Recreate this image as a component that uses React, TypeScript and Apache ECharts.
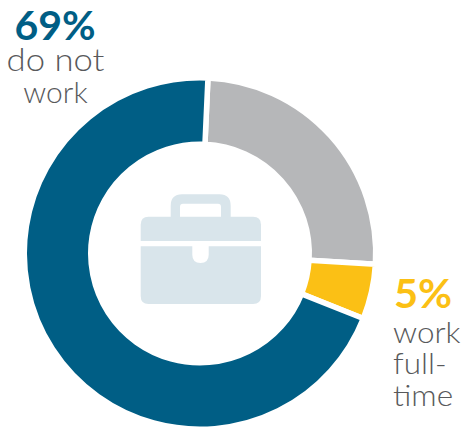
import React, { useEffect, useRef } from "react";
import * as echarts from "echarts";

const shareNames = ["Part-time or other", "Work full-time", "Do not work"];
const shareValues = [25, 5, 69];
const shareColors = ["#b6b7b9", "#fbc015", "#005e85"];

const FONT = "Lato, sans-serif";
const GREY_TEXT = "#58595b";

// Briefcase outline, split into the handle, the lid and the lower body with its clasp.
const HANDLE =
  "M170.7 217V206Q170.7 194.3 182 194.3H219.5Q230.7 194.3 230.7 206V217H221V207Q221 203.8 218 203.8H183Q180 203.8 180 207V217Z";
const LID = "M148.5 216.7H253Q261 216.7 261 224.7V241H140.7V224.7Q140.7 216.7 148.5 216.7Z";
const BODY =
  "M140.7 246.3H192.3V254.8Q192.3 263 200.5 263Q208.7 263 208.7 254.8V246.3H261V296Q261 304 253 304H148.5Q140.7 304 140.7 296Z";

echarts.graphic.registerShape("caseHandle", echarts.graphic.extendPath(HANDLE, {}));
echarts.graphic.registerShape("caseLid", echarts.graphic.extendPath(LID, {}));
echarts.graphic.registerShape("caseBody", echarts.graphic.extendPath(BODY, {}));

const label = (
  text: string,
  x: number,
  y: number,
  size: number,
  fill: string,
  weight = 400,
  align: "left" | "center" = "center",
  scaleX = 1,
  lineHeight?: number,
) => ({
  type: "text" as const,
  x,
  y,
  scaleX,
  style: {
    text,
    fontFamily: FONT,
    fontSize: size,
    fontWeight: weight,
    fill,
    textAlign: align,
    textVerticalAlign: "middle" as const,
    lineHeight,
  },
});

export default function App() {
  const ref = useRef<HTMLDivElement>(null);

  useEffect(() => {
    const chart = echarts.init(ref.current!, undefined, { renderer: "svg" });
    chart.setOption({
      animation: false,
      backgroundColor: "#ffffff",
      series: [
        {
          type: "pie",
          center: [200, 253.5],
          radius: [109.25, 175.75],
          startAngle: 87.4,
          clockwise: true,
          silent: true,
          label: { show: false },
          labelLine: { show: false },
          itemStyle: { borderColor: "#ffffff", borderWidth: 5.5 },
          data: shareNames.map((name, i) => ({
            name,
            value: shareValues[i],
            itemStyle: { color: shareColors[i] },
          })),
        },
      ],
      graphic: [
        { type: "caseHandle", style: { fill: "#d9e5eb" } },
        { type: "caseLid", style: { fill: "#d9e5eb" } },
        { type: "caseBody", style: { fill: "#d9e5eb" } },
        label("69%", 55, 24, 41, "#005e85", 700),
        label("do not", 55.5, 59, 31, GREY_TEXT, 300, "center", 1.12),
        label("work", 55.5, 91, 30, GREY_TEXT, 300),
        label("5%", 394, 293, 40, "#fbc015", 700, "left", 1.04),
        label("work\nfull-\ntime", 393, 363, 30, GREY_TEXT, 300, "left", 1.05, 31.5),
      ],
    });
    return () => chart.dispose();
  }, []);

  return <div ref={ref} style={{ width: 462, height: 427, position: "fixed", left: 0, top: 0 }} />;
}
